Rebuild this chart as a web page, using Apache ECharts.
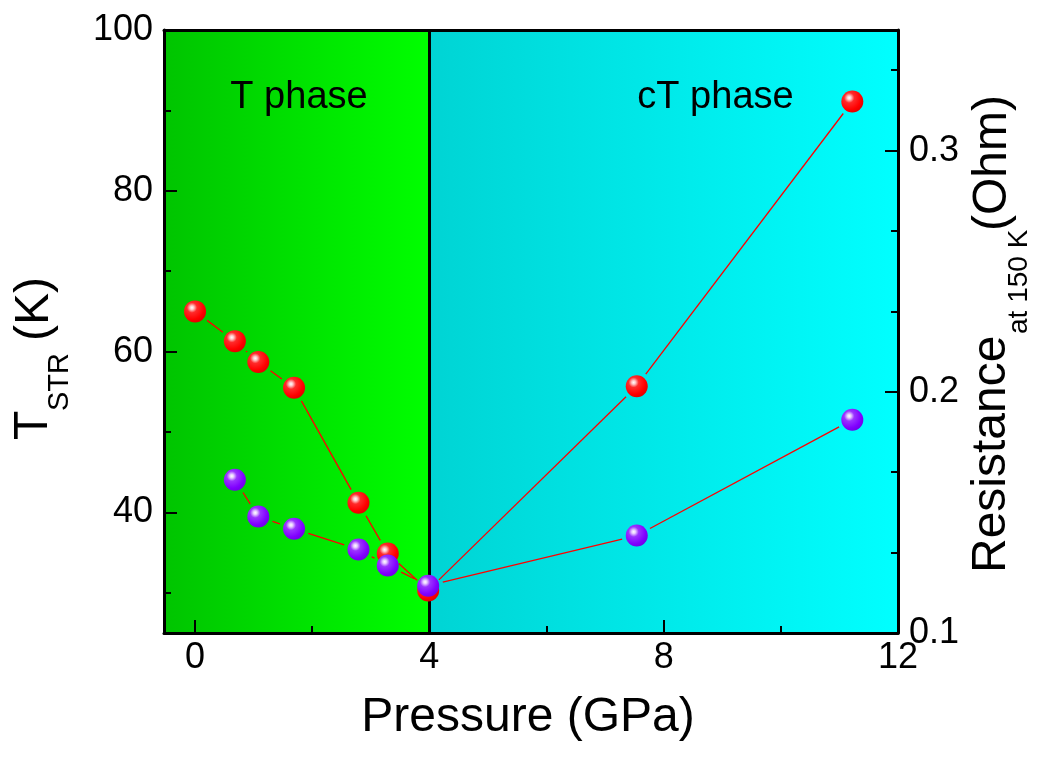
<!DOCTYPE html>
<html>
<head>
<meta charset="utf-8">
<script src="https://cdn.jsdelivr.net/npm/echarts@6/dist/echarts.min.js"></script>
<style>
html,body{margin:0;padding:0;background:#fff;}
#chart{width:1038px;height:757px;}
</style>
</head>
<body>
<div id="chart"></div>
<script>
// ---- data ----
const tPressure = [0, 0.68, 1.08, 1.69, 2.79, 3.29, 3.98, 7.54, 11.22];
const tStr = [65.0, 61.3, 58.7, 55.5, 41.2, 34.9, 30.3, 55.7, 91.1];
const rPressure = [0.68, 1.08, 1.69, 2.79, 3.29, 3.98, 7.54, 11.22];
const resistance = [0.1635, 0.1483, 0.1432, 0.1346, 0.1280, 0.1196, 0.1404, 0.1884];

const xMajorTicks = [0, 4, 8, 12];
const xMinorTicks = [2, 6, 10];
const yLeftMajor = [40, 60, 80, 100];
const yLeftMinor = [30, 50, 70, 90];
const yRightMajor = [0.1, 0.2, 0.3];
const yRightMinor = [0.1333333, 0.1666667, 0.2333333, 0.2666667, 0.3333333];

const phaseBoundary = 4;
const xRange = [-0.53, 12];
const yLeftRange = [25, 100];
const yRightRange = [0.1, 0.35];

const FONT = "'Liberation Sans', Arial, sans-serif";

const chart = echarts.init(document.getElementById('chart'));

function ball(base, mid, hi, edge) {
  return {
    type: 'radial', x: 0.36, y: 0.33, r: 0.72,
    colorStops: [
      {offset: 0, color: '#ffffff'},
      {offset: 0.12, color: hi},
      {offset: 0.32, color: mid},
      {offset: 0.75, color: base},
      {offset: 1, color: edge}
    ]
  };
}

function gapLines(xs, ys, color) {
  return function (params, api) {
    const i = params.dataIndex;
    if (i >= xs.length - 1) return null;
    const p0 = api.coord([xs[i], ys[i]]);
    const p1 = api.coord([xs[i + 1], ys[i + 1]]);
    const dx = p1[0] - p0[0], dy = p1[1] - p0[1];
    const d = Math.sqrt(dx * dx + dy * dy);
    const g = 15;
    if (d <= 2 * g) return null;
    const ux = dx / d, uy = dy / d;
    return {
      type: 'line',
      shape: {x1: p0[0] + ux * g, y1: p0[1] + uy * g, x2: p1[0] - ux * g, y2: p1[1] - uy * g},
      style: {stroke: color, lineWidth: 1.3}
    };
  };
}

const axisLabelCommon = {color: '#000', fontSize: 36, fontFamily: FONT};

const option = {
  animation: false,
  backgroundColor: '#fff',
  grid: {left: 164, right: 140, top: 30, bottom: 124, containLabel: false},
  xAxis: [
    {
      type: 'value', min: xRange[0], max: xRange[1], position: 'bottom', z: 10,
      axisLine: {show: true, onZero: false, lineStyle: {color: '#000', width: 3}},
      axisTick: {show: true, inside: true, length: 13, lineStyle: {color: '#000', width: 2}, customValues: xMajorTicks},
      axisLabel: Object.assign({margin: 7, customValues: xMajorTicks}, axisLabelCommon),
      splitLine: {show: false}
    },
    {
      type: 'value', min: xRange[0], max: xRange[1], position: 'bottom', z: 10,
      axisLine: {show: false, onZero: false},
      axisTick: {show: true, inside: true, length: 7, lineStyle: {color: '#000', width: 2}, customValues: xMinorTicks},
      axisLabel: {show: false}, splitLine: {show: false}
    },
    {
      type: 'value', min: xRange[0], max: xRange[1], position: 'top', z: 10,
      axisLine: {show: true, onZero: false, lineStyle: {color: '#000', width: 3}},
      axisTick: {show: false}, axisLabel: {show: false}, splitLine: {show: false}
    }
  ],
  yAxis: [
    {
      type: 'value', min: yLeftRange[0], max: yLeftRange[1], position: 'left', z: 10,
      axisLine: {show: true, onZero: false, lineStyle: {color: '#000', width: 3}},
      axisTick: {show: true, inside: true, length: 13, lineStyle: {color: '#000', width: 2}, customValues: yLeftMajor},
      axisLabel: Object.assign({margin: 11, padding: [0, 0, 7, 0], customValues: yLeftMajor}, axisLabelCommon),
      splitLine: {show: false}
    },
    {
      type: 'value', min: yRightRange[0], max: yRightRange[1], position: 'right', z: 10,
      axisLine: {show: true, onZero: false, lineStyle: {color: '#000', width: 3}},
      axisTick: {show: true, inside: true, length: 13, lineStyle: {color: '#000', width: 2}, customValues: yRightMajor},
      axisLabel: Object.assign({margin: 11, padding: [0, 0, 7, 0], customValues: yRightMajor,
        formatter: v => v.toFixed(1)}, axisLabelCommon),
      splitLine: {show: false}
    },
    {
      type: 'value', min: yLeftRange[0], max: yLeftRange[1], position: 'left', z: 10,
      axisLine: {show: false, onZero: false},
      axisTick: {show: true, inside: true, length: 7, lineStyle: {color: '#000', width: 2}, customValues: yLeftMinor},
      axisLabel: {show: false}, splitLine: {show: false}
    },
    {
      type: 'value', min: yRightRange[0], max: yRightRange[1], position: 'right', z: 10,
      axisLine: {show: false, onZero: false},
      axisTick: {show: true, inside: true, length: 7, lineStyle: {color: '#000', width: 2}, customValues: yRightMinor},
      axisLabel: {show: false}, splitLine: {show: false}
    }
  ],
  series: [
    {
      type: 'line', xAxisIndex: 0, yAxisIndex: 0, data: [], z: 1, silent: true,
      markArea: {
        silent: true,
        data: [
          [{xAxis: xRange[0], yAxis: yLeftRange[0], itemStyle: {opacity: 1, color: {type: 'linear', x: 0, y: 0, x2: 1, y2: 0,
              colorStops: [{offset: 0, color: '#00c400'}, {offset: 1, color: '#00ff00'}]}}},
           {xAxis: phaseBoundary, yAxis: yLeftRange[1]}],
          [{xAxis: phaseBoundary, yAxis: yLeftRange[0], itemStyle: {opacity: 1, color: {type: 'linear', x: 0, y: 0, x2: 1, y2: 0,
              colorStops: [{offset: 0, color: '#00d4d4'}, {offset: 1, color: '#00ffff'}]}}},
           {xAxis: xRange[1], yAxis: yLeftRange[1]}]
        ]
      }
    },
    {
      type: 'line', xAxisIndex: 0, yAxisIndex: 0, data: [], z: 2, silent: true,
      markLine: {
        silent: true, symbol: 'none', label: {show: false},
        lineStyle: {color: '#000', width: 3, type: 'solid'},
        data: [{xAxis: phaseBoundary}]
      }
    },
    {
      type: 'custom', xAxisIndex: 0, yAxisIndex: 0, z: 3, silent: true,
      renderItem: gapLines(tPressure, tStr, '#ff0000'),
      data: tPressure.map((p, i) => [p, tStr[i]]),
      encode: {x: 0, y: 1}
    },
    {
      type: 'custom', xAxisIndex: 0, yAxisIndex: 1, z: 3, silent: true,
      renderItem: gapLines(rPressure, resistance, '#ff0000'),
      data: rPressure.map((p, i) => [p, resistance[i]]),
      encode: {x: 0, y: 1}
    },
    {
      type: 'scatter', xAxisIndex: 0, yAxisIndex: 0, z: 5, symbolSize: 22,
      data: tPressure.map((p, i) => [p, tStr[i]]),
      itemStyle: {color: ball('#ff0000', '#ff2a2a', '#ffc8c8', '#e00000'), opacity: 1}
    },
    {
      type: 'scatter', xAxisIndex: 0, yAxisIndex: 1, z: 6, symbolSize: 22,
      data: rPressure.map((p, i) => [p, resistance[i]]),
      itemStyle: {color: ball('#8000ff', '#9a33ff', '#e6ccff', '#7000e6'), opacity: 1}
    }
  ],
  graphic: [
    {type: 'text', x: 299, y: 97.5, z: 20,
      style: {text: 'T phase', font: '38px ' + FONT, fill: '#000', align: 'center', verticalAlign: 'middle'}},
    {type: 'text', x: 715.5, y: 97.5, z: 20,
      style: {text: 'cT phase', font: '38px ' + FONT, fill: '#000', align: 'center', verticalAlign: 'middle'}},
    {type: 'text', x: 528, y: 718, z: 20,
      style: {text: 'Pressure (GPa)', font: '48px ' + FONT, fill: '#000', align: 'center', verticalAlign: 'middle'}},
    // left axis name: T_STR (K)
    {type: 'text', x: 34, y: 440, rotation: Math.PI / 2, z: 20,
      style: {text: 'T', font: '48px ' + FONT, fill: '#000', align: 'left', verticalAlign: 'middle'}},
    {type: 'text', x: 60, y: 411, rotation: Math.PI / 2, z: 20,
      style: {text: 'STR', font: '29px ' + FONT, fill: '#000', align: 'left', verticalAlign: 'middle'}},
    {type: 'text', x: 35, y: 341, rotation: Math.PI / 2, z: 20,
      style: {text: '(K)', font: '48px ' + FONT, fill: '#000', align: 'left', verticalAlign: 'middle'}},
    // right axis name: Resistance_at 150 K (Ohm)
    {type: 'text', x: 992, y: 573, rotation: Math.PI / 2, z: 20,
      style: {text: 'Resistance', font: '48px ' + FONT, fill: '#000', align: 'left', verticalAlign: 'middle'}},
    {type: 'text', x: 1019, y: 334, rotation: Math.PI / 2, z: 20,
      style: {text: 'at 150 K', font: '28px ' + FONT, fill: '#000', align: 'left', verticalAlign: 'middle'}},
    {type: 'text', x: 993, y: 231, rotation: Math.PI / 2, z: 20,
      style: {text: '(Ohm)', font: '48px ' + FONT, fill: '#000', align: 'left', verticalAlign: 'middle'}}
  ]
};

chart.setOption(option);
</script>
</body>
</html>
